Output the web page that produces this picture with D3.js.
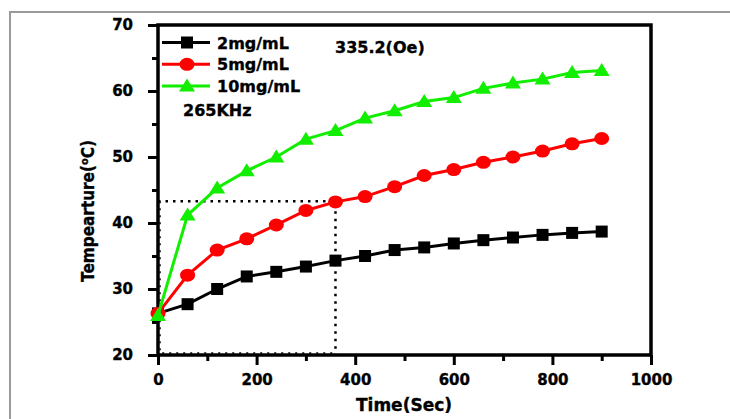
<!DOCTYPE html>
<html>
<head>
<meta charset="utf-8">
<script src="https://cdn.jsdelivr.net/npm/d3@7"></script>
<style>
  body { margin: 0; background: #fff; }
  svg { display: block; }
  text { font-family: "DejaVu Sans", sans-serif; font-weight: bold; fill: #000; stroke: #000; stroke-width: 0.35px; }
</style>
</head>
<body>
<div id="chart"></div>
<script>
// data
var times = [0, 60, 120, 180, 240, 300, 360, 420, 480, 540, 600, 660, 720, 780, 840, 900];
var temp2 = [26.3, 27.7, 30.0, 31.9, 32.6, 33.4, 34.3, 35.0, 35.9, 36.3, 36.9, 37.4, 37.8, 38.2, 38.5, 38.7];
var temp5 = [26.3, 32.1, 35.9, 37.6, 39.7, 41.9, 43.2, 44.0, 45.5, 47.2, 48.1, 49.2, 50.0, 50.9, 52.0, 52.8];
var temp10 = [26.0, 41.2, 45.3, 47.9, 50.0, 52.7, 54.0, 55.9, 57.0, 58.4, 59.0, 60.4, 61.2, 61.8, 62.8, 63.1];
var keys = ["2mg/mL", "5mg/mL", "10mg/mL"];
var xTicks = [0, 200, 400, 600, 800, 1000];
var yTicks = [20, 30, 40, 50, 60, 70];
var markX = 360, markY = 43.3; // dotted guide

var series = [
  {name: keys[0], values: temp2, color: "#000000", shape: "square"},
  {name: keys[1], values: temp5, color: "#ff0000", shape: "circle"},
  {name: keys[2], values: temp10, color: "#11ee00", shape: "triangle"}
];

var svg = d3.select("#chart").append("svg")
  .attr("width", 730)
  .attr("height", 419);

// grey frame around the figure
svg.append("path")
  .attr("d", "M10,419 L10,12 L730,12")
  .attr("fill", "none")
  .attr("stroke", "#9a9a9a")
  .attr("stroke-width", 2);

var pLeft = 158, pRight = 651, pTop = 25, pBottom = 355;

var x = d3.scaleLinear().domain([0, 1000]).range([pLeft, pRight]);
var y = d3.scaleLinear().domain([20, 70]).range([pBottom, pTop]);

// minor ticks
svg.append("g")
  .attr("transform", "translate(0," + pBottom + ")")
  .call(d3.axisBottom(x).tickValues([100, 300, 500, 700, 900]).tickSize(6).tickFormat(""))
  .call(function(g){ g.select(".domain").remove(); })
  .selectAll("line").attr("stroke-width", 3);

svg.append("g")
  .attr("transform", "translate(" + pLeft + ",0)")
  .call(d3.axisLeft(y).tickValues([25, 35, 45, 55, 65]).tickSize(6).tickFormat(""))
  .call(function(g){ g.select(".domain").remove(); })
  .selectAll("line").attr("stroke-width", 3);

// major ticks + labels
var xAxis = svg.append("g")
  .attr("transform", "translate(0," + pBottom + ")")
  .call(d3.axisBottom(x).tickValues(xTicks).tickSize(10).tickPadding(9).tickFormat(d3.format("d")));
xAxis.select(".domain").remove();
xAxis.selectAll("line").attr("stroke-width", 3);
xAxis.selectAll("text").style("font-size", "15px").style("font-family", "DejaVu Sans").style("font-weight", "bold");

var yAxis = svg.append("g")
  .attr("transform", "translate(" + pLeft + ",0)")
  .call(d3.axisLeft(y).tickValues(yTicks).tickSize(10).tickPadding(15).tickFormat(d3.format("d")));
yAxis.select(".domain").remove();
yAxis.selectAll("line").attr("stroke-width", 3);
yAxis.selectAll("text").style("font-size", "15px").style("font-family", "DejaVu Sans").style("font-weight", "bold");

// box
svg.append("rect")
  .attr("x", pLeft).attr("y", pTop)
  .attr("width", pRight - pLeft).attr("height", pBottom - pTop)
  .attr("fill", "none")
  .attr("stroke", "#000")
  .attr("stroke-width", 3.5);

// dotted guide lines
svg.append("path")
  .attr("d", "M" + x(0) + "," + y(markY) + " L" + x(markX) + "," + y(markY) + " L" + x(markX) + "," + y(20))
  .attr("fill", "none")
  .attr("stroke", "#000")
  .attr("stroke-width", 2.5)
  .attr("stroke-dasharray", "2.5,5");
svg.append("path")
  .attr("d", "M" + (x(0) + 2) + "," + y(markY) + " L" + (x(0) + 2) + "," + (y(20) - 2) + " L" + x(markX) + "," + (y(20) - 2))
  .attr("fill", "none")
  .attr("stroke", "#000")
  .attr("stroke-width", 1.5)
  .attr("stroke-dasharray", "2,5");

function drawMarker(g, shape, color, cx, cy) {
  if (shape == "square") {
    g.append("rect").attr("x", cx - 6).attr("y", cy - 6)
      .attr("width", 12).attr("height", 12).attr("fill", color);
  } else if (shape == "circle") {
    g.append("ellipse").attr("cx", cx).attr("cy", cy)
      .attr("rx", 7.5).attr("ry", 6.5).attr("fill", color);
  } else {
    g.append("path")
      .attr("d", "M" + cx + "," + (cy - 7.5) + " L" + (cx + 8) + "," + (cy + 5.5) + " L" + (cx - 8) + "," + (cy + 5.5) + " Z")
      .attr("fill", color);
  }
}

var line = d3.line()
  .x(function(d) { return x(d.t); })
  .y(function(d) { return y(d.v); });

series.forEach(function(s) {
  var pts = times.map(function(t, i) { return {t: t, v: s.values[i]}; });
  var g = svg.append("g");
  g.append("path")
    .datum(pts)
    .attr("d", line)
    .attr("fill", "none")
    .attr("stroke", s.color)
    .attr("stroke-width", 3);
  pts.forEach(function(p) {
    drawMarker(g, s.shape, s.color, x(p.t), y(p.v));
  });
});

// legend
var leg = svg.append("g");
series.forEach(function(s, i) {
  var ly = 42.5 + i * 21.8;
  leg.append("line")
    .attr("x1", 162).attr("x2", 210)
    .attr("y1", ly).attr("y2", ly)
    .attr("stroke", s.color)
    .attr("stroke-width", 3);
  drawMarker(leg, s.shape, s.color, 187, ly);
  leg.append("text")
    .attr("x", 217).attr("y", ly + 6)
    .style("font-size", "16px")
    .text(s.name);
});

svg.append("text")
  .attr("x", 335).attr("y", 52.5)
  .style("font-size", "16px")
  .text("335.2(Oe)");

svg.append("text")
  .attr("x", 183).attr("y", 116)
  .style("font-size", "16px")
  .text("265KHz");

// axis titles
svg.append("text")
  .attr("x", 404).attr("y", 410.5)
  .attr("text-anchor", "middle")
  .style("font-size", "17px")
  .text("Time(Sec)");

var yt = svg.append("text")
  .attr("transform", "translate(94,211) rotate(-90) scale(0.9,1)")
  .attr("text-anchor", "middle")
  .style("font-size", "17px");
yt.append("tspan").text("Tempearture(");
yt.append("tspan").attr("dy", -6.5).style("font-size", "11px").text("o");
yt.append("tspan").attr("dy", 6.5).text("C)");
</script>
</body>
</html>
